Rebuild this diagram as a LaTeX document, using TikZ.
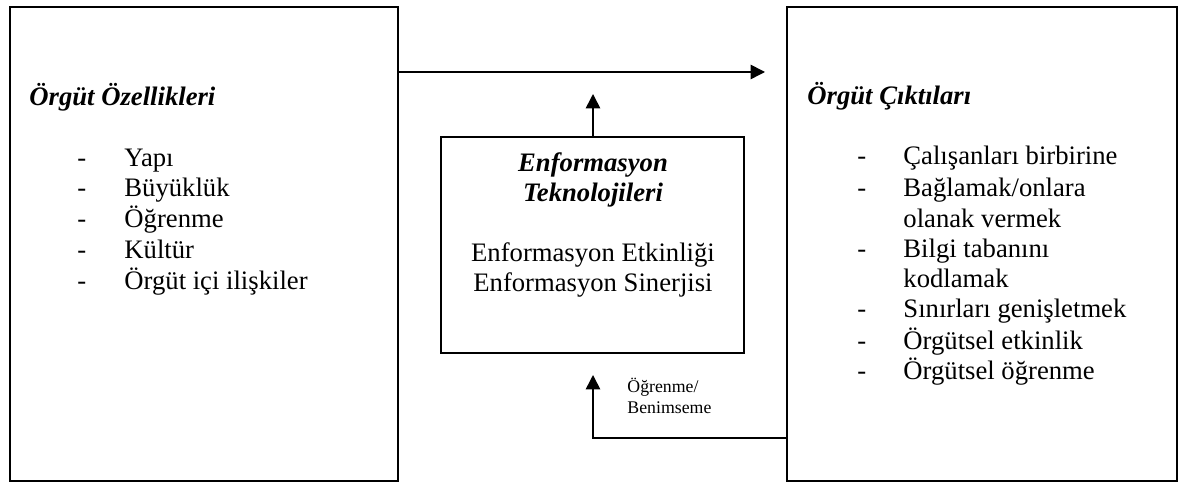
\documentclass[tikz,border=0pt]{standalone}
\usepackage{fontspec}
\setmainfont{Liberation Serif}
\usetikzlibrary{arrows.meta}
\begin{document}
\begin{tikzpicture}[x=0.45pt,y=-0.45pt,
  box/.style={draw,line width=0.7pt,inner sep=0,minimum width=#1},
  txt/.style={inner sep=0,anchor=base west,font=\fontsize{12}{13.8}\selectfont},
  ctxt/.style={inner sep=0,anchor=base,font=\fontsize{12}{13.8}\selectfont},
  ttl/.style={txt,font=\fontsize{12}{13.8}\selectfont\bfseries\itshape},
  cttl/.style={ctxt,font=\fontsize{12}{13.8}\selectfont\bfseries\itshape},
  small/.style={inner sep=0,anchor=base west,font=\fontsize{8}{9.4}\selectfont},
  arr/.style={line width=0.7pt,-{Triangle[length=6.5pt,width=6.5pt]}},
  ln/.style={line width=0.7pt}]
\useasboundingbox (0,0) rectangle (1181,485);
% boxes
\node[box=174.6pt,minimum height=213.3pt] (left) at (204,244) {};
\node[box=175.5pt,minimum height=213.3pt] (right) at (982,244) {};
\node[box=136.35pt,minimum height=97.2pt] (mid) at (592.5,245) {};
% left texts
\node[ttl] (lt) at (29,106) {Örgüt Özellikleri};
\node[txt] (ld1) at (77,167) {-};
\node[txt] (ld2) at (77,197) {-};
\node[txt] (ld3) at (77,228) {-};
\node[txt] (ld4) at (77,259) {-};
\node[txt] (ld5) at (77,290) {-};
\node[txt] (l1) at (124,167) {Yapı};
\node[txt] (l2) at (124,197) {Büyüklük};
\node[txt] (l3) at (124,228) {Öğrenme};
\node[txt] (l4) at (124,259) {Kültür};
\node[txt] (l5) at (124,290) {Örgüt içi ilişkiler};
% right texts
\node[ttl] (rt) at (807,105) {Örgüt Çıktıları};
\node[txt] (rd1) at (857,165) {-};
\node[txt] (rd2) at (857,197) {-};
\node[txt] (rd4) at (857,258) {-};
\node[txt] (rd6) at (857,318) {-};
\node[txt] (rd7) at (857,350) {-};
\node[txt] (rd8) at (857,380) {-};
\node[txt] (r1) at (903,165) {Çalışanları birbirine};
\node[txt] (r2) at (903,197) {Bağlamak/onlara};
\node[txt] (r3) at (903,228) {olanak vermek};
\node[txt] (r4) at (903,258) {Bilgi tabanını};
\node[txt] (r5) at (903,288) {kodlamak};
\node[txt] (r6) at (903,318) {Sınırları genişletmek};
\node[txt] (r7) at (903,350) {Örgütsel etkinlik};
\node[txt] (r8) at (903,380) {Örgütsel öğrenme};
% middle texts
\node[cttl] (m1) at (593,172) {Enformasyon};
\node[cttl] (m2) at (593,202) {Teknolojileri};
\node[ctxt] (m3) at (593,262) {Enformasyon Etkinliği};
\node[ctxt] (m4) at (593,292) {Enformasyon Sinerjisi};
% label
\node[small] (lab1) at (627,393) {Öğrenme/};
\node[small] (lab2) at (627,414) {Benimseme};
% connectors
\coordinate (topend) at (765,72);
\coordinate (upend) at (593,94);
\coordinate (corner) at (593,438);
\coordinate (botend) at (593,375);
\draw[arr] (left.east |- topend) -- (topend);
\draw[arr] (mid.north -| upend) -- (upend);
\draw[arr] (right.west |- corner) -- (corner) -- (botend);
\end{tikzpicture}
\end{document}
